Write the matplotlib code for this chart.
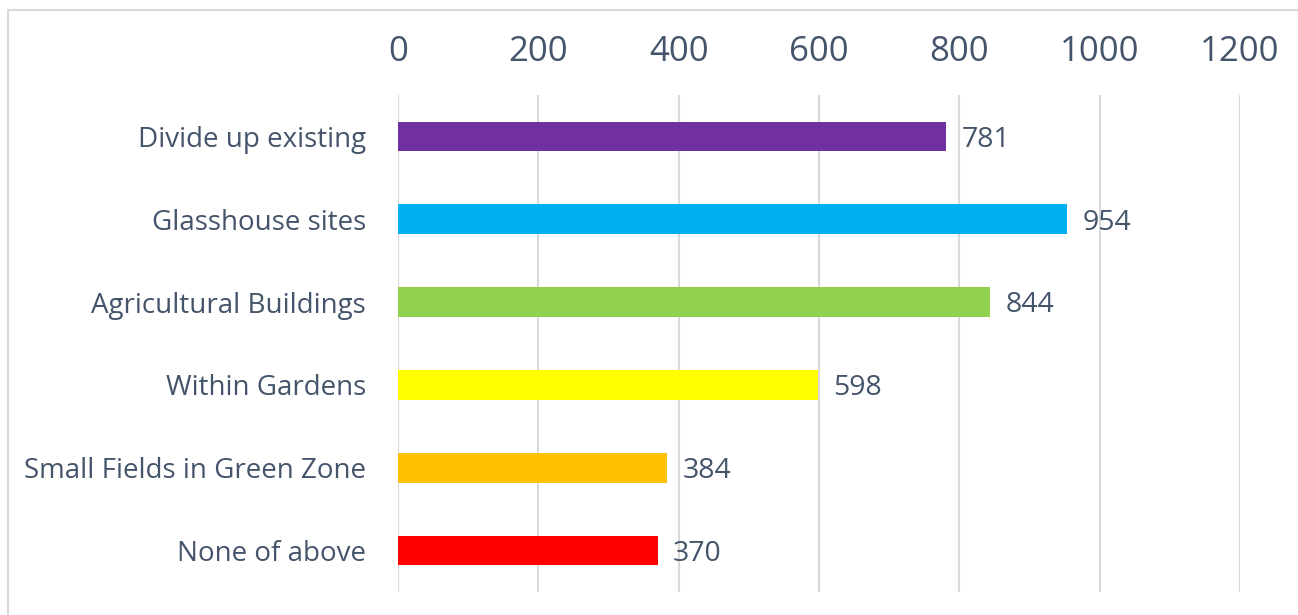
import matplotlib
matplotlib.use("Agg")
import matplotlib.pyplot as plt
from matplotlib.patches import Rectangle

categories = ["Divide up existing", "Glasshouse sites", "Agricultural Buildings",
              "Within Gardens", "Small Fields in Green Zone", "None of above"]
values = [781, 954, 844, 598, 384, 370]
colors = ["#7030A0", "#00B0F0", "#92D050", "#FFFF00", "#FFC000", "#FF0000"]
xticks = [0, 200, 400, 600, 800, 1000, 1200]

text_color = "#44546A"
plt.rcParams['font.family'] = ['Open Sans', 'DejaVu Sans']

fig = plt.figure(figsize=(12.98, 6.15), dpi=100)
fig.patches.append(Rectangle((8 / 1298, -0.05), 1.1, 1 - 10 / 615 + 0.05,
                             transform=fig.transFigure, fill=False,
                             edgecolor="#D9D9D9", lw=1.5))
ax = fig.add_axes([398 / 1298, 1 - 592 / 615, 842 / 1298, 497 / 615])

ypos = list(range(len(categories)))
ax.barh(ypos, values, height=0.36, color=colors, zorder=3)
for y, v in zip(ypos, values):
    ax.text(v + 22, y + 0.04, str(v), va="center", ha="left", fontsize=20.5,
            color=text_color)

ax.set_xlim(0, 1200)
ax.set_ylim(len(categories) - 0.5, -0.5)
ax.set_xticks(xticks)
ax.set_xticklabels([str(t) for t in xticks])
ax.set_yticks(ypos)
ax.set_yticklabels(categories)
ax.xaxis.tick_top()
ax.tick_params(axis="x", length=0, pad=19, labelsize=25, labelcolor=text_color)
ax.tick_params(axis="y", length=0, pad=23, labelsize=20, labelcolor=text_color)
for lbl in ax.get_yticklabels():
    lbl.set_va("center_baseline")
ax.grid(axis="x", color="#D9D9D9", lw=1.5, zorder=0)
for s in ax.spines.values():
    s.set_visible(False)

fig.savefig("out.png", dpi=100)
